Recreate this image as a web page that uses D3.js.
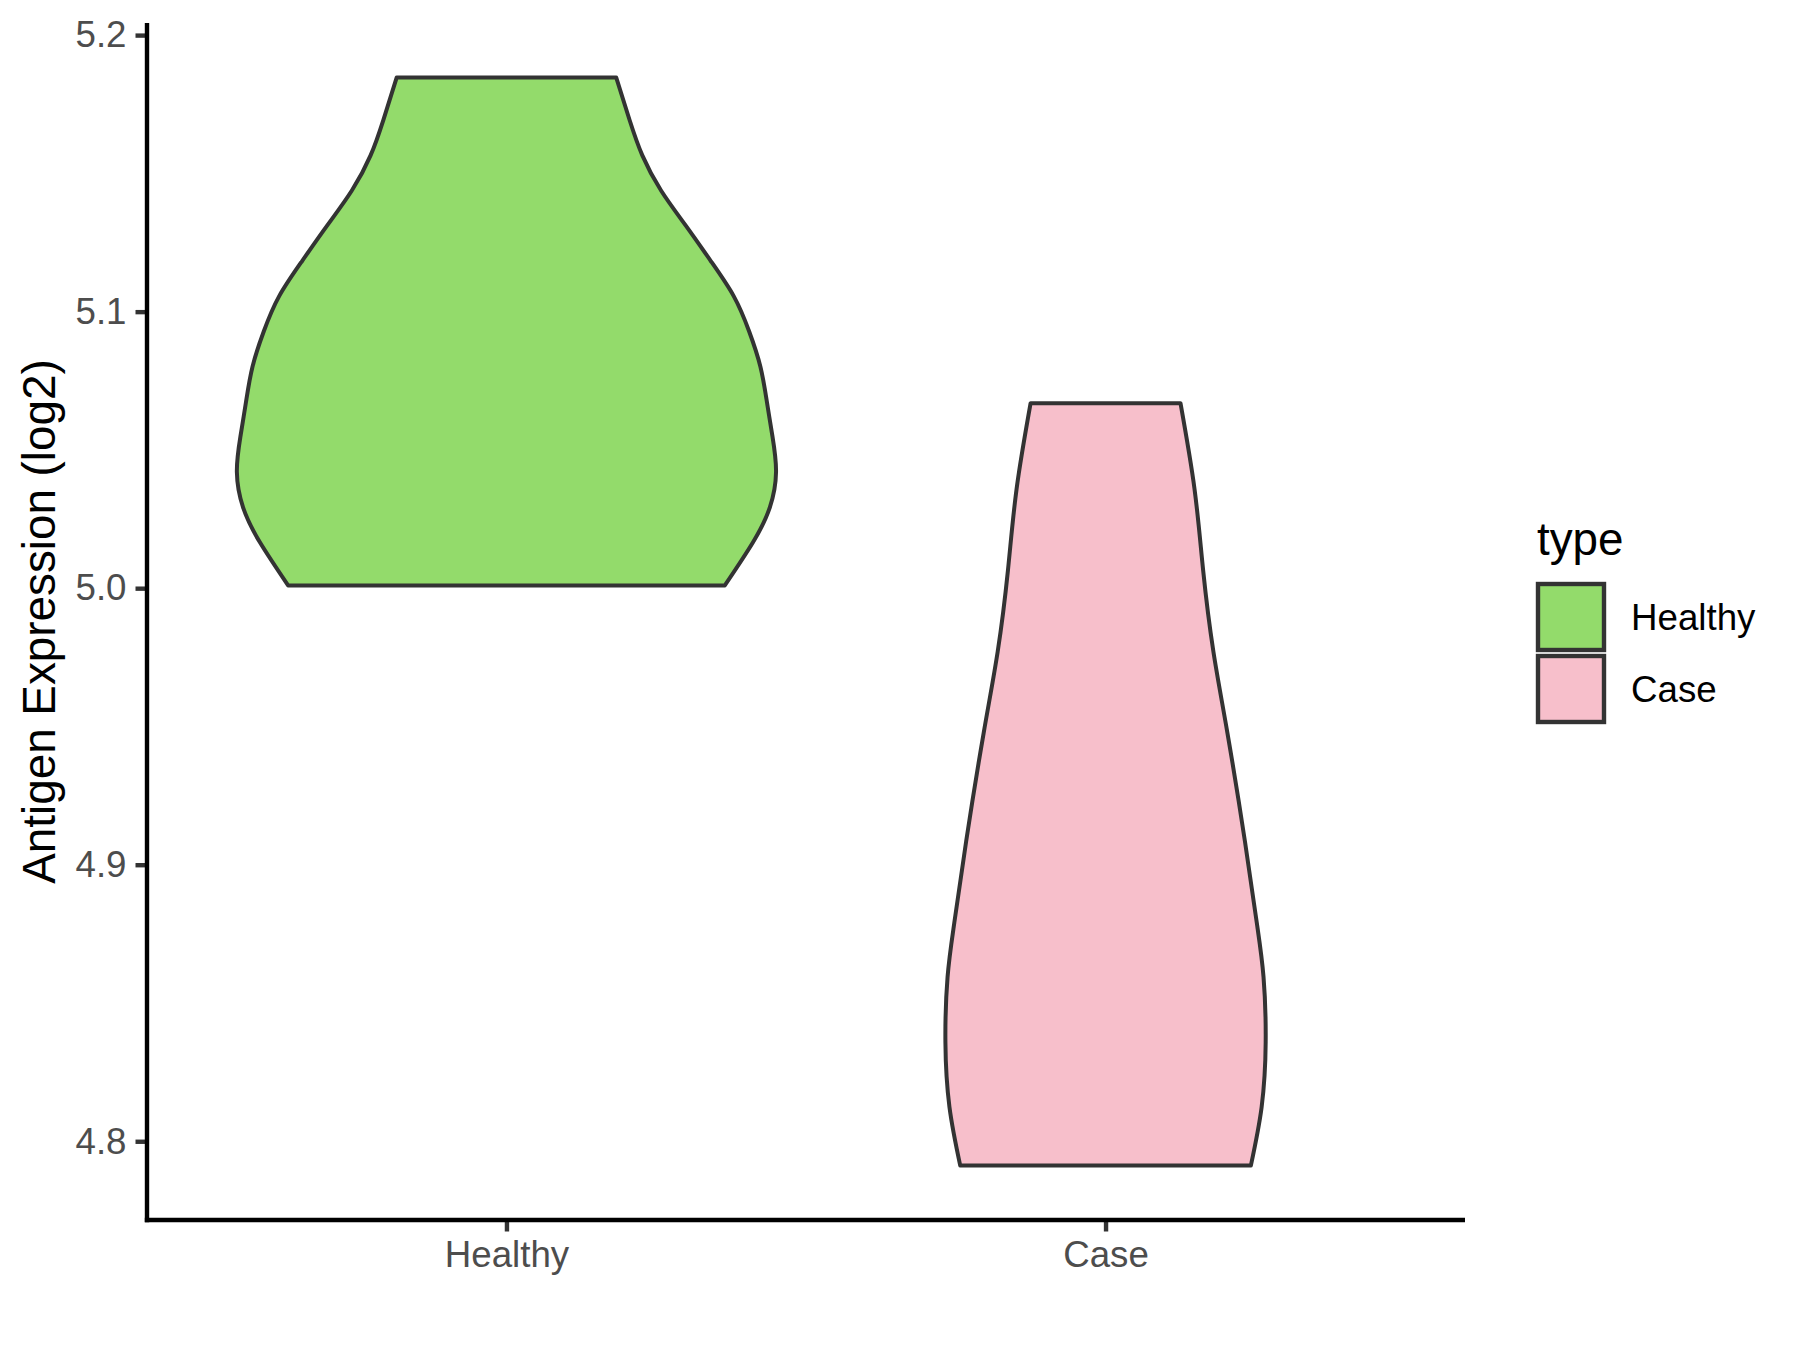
<!DOCTYPE html>
<html>
<head>
<meta charset="utf-8">
<script src="https://cdn.jsdelivr.net/npm/d3@7"></script>
<style>
  html, body { margin: 0; padding: 0; background: #ffffff; }
  text { font-family: "Liberation Sans", Arial, sans-serif; }
</style>
</head>
<body>
<svg id="chart" width="1800" height="1350"></svg>
<script>
// ---- data ----
const categories = ["Healthy", "Case"];
const fillColors = ["#93DB6B", "#F7BFCB"];
// violin outlines: expression value (log2) and relative density (half-width)
const healthyValues  = [5.1847, 5.1692, 5.1565, 5.1437, 5.1310, 5.1183, 5.1056, 5.0929, 5.0801, 5.0674, 5.0547, 5.0420, 5.0292, 5.0165, 5.0010];
const healthyDensity = [0.407, 0.457, 0.504, 0.574, 0.666, 0.758, 0.843, 0.900, 0.942, 0.966, 0.987, 1.000, 0.977, 0.914, 0.810];
const caseValues  = [5.0669, 5.0359, 5.0065, 4.9771, 4.9477, 4.9085, 4.8790, 4.8594, 4.8359, 4.8124, 4.7912];
const caseDensity = [0.278, 0.330, 0.362, 0.400, 0.452, 0.517, 0.561, 0.586, 0.594, 0.579, 0.539];
const yTicks = [4.8, 4.9, 5.0, 5.1, 5.2];
const yTickLabels = ["4.8", "4.9", "5.0", "5.1", "5.2"];
const yTitle = "Antigen Expression (log2)";
const legendTitle = "type";

// ---- layout ----
const panel = { left: 147, right: 1465, top: 23, bottom: 1220 };
const svg = d3.select("#chart");

const violins = [
  { cat: categories[0], fill: fillColors[0], pts: healthyValues.map((v, i) => ({ v, d: healthyDensity[i] })) },
  { cat: categories[1], fill: fillColors[1], pts: caseValues.map((v, i) => ({ v, d: caseDensity[i] })) }
];

const allVals = healthyValues.concat(caseValues);
const vmin = d3.min(allVals), vmax = d3.max(allVals);
const pad = (vmax - vmin) * 0.05;
const y = d3.scaleLinear().domain([vmin - pad, vmax + pad]).range([panel.bottom, panel.top]);
const x = d3.scalePoint().domain(categories).range([panel.left, panel.right]).padding(0.6);

const maxD = d3.max(violins, v => d3.max(v.pts, p => p.d));
const w = d3.scaleLinear().domain([0, maxD]).range([0, 0.45 * x.step()]);

// violins
violins.forEach(vl => {
  const cx = x(vl.cat);
  const area = d3.area()
    .y(p => y(p.v))
    .x0(p => cx - w(p.d))
    .x1(p => cx + w(p.d))
    .curve(d3.curveNatural);
  svg.append("path")
    .datum(vl.pts)
    .attr("d", area)
    .attr("fill", vl.fill)
    .attr("stroke", "#333333")
    .attr("stroke-width", 4)
    .attr("stroke-linejoin", "round");
});

// axes
const yAxis = d3.axisLeft(y).tickValues(yTicks).tickFormat((d, i) => yTickLabels[i]).tickSize(11.5).tickPadding(9);
const gy = svg.append("g").attr("transform", `translate(${panel.left},0)`).call(yAxis);
gy.select(".domain").remove();
gy.selectAll(".tick line").attr("stroke", "#333333").attr("stroke-width", 4.4);
gy.selectAll(".tick text").attr("fill", "#4D4D4D").style("font-size", "36.7px")
  .style("font-family", "Liberation Sans, Arial, sans-serif");

const xAxis = d3.axisBottom(x).tickSize(11.5).tickPadding(9);
const gx = svg.append("g").attr("transform", `translate(0,${panel.bottom})`).call(xAxis);
gx.select(".domain").remove();
gx.selectAll(".tick line").attr("stroke", "#333333").attr("stroke-width", 4.4);
gx.selectAll(".tick text").attr("fill", "#4D4D4D").style("font-size", "36.7px")
  .style("font-family", "Liberation Sans, Arial, sans-serif");

// axis lines
svg.append("line").attr("x1", panel.left).attr("x2", panel.left).attr("y1", panel.top).attr("y2", panel.bottom + 2.2)
  .attr("stroke", "#000").attr("stroke-width", 4.4);
svg.append("line").attr("x1", panel.left - 2.2).attr("x2", panel.right).attr("y1", panel.bottom).attr("y2", panel.bottom)
  .attr("stroke", "#000").attr("stroke-width", 4.4);

// y title
svg.append("text")
  .attr("transform", `translate(55,${(panel.top + panel.bottom) / 2}) rotate(-90)`)
  .attr("text-anchor", "middle")
  .style("font-size", "45.8px")
  .attr("fill", "#000")
  .text(yTitle);

// legend
const lg = svg.append("g");
lg.append("text").attr("x", 1537).attr("y", 555).style("font-size", "45.8px").attr("fill", "#000").text(legendTitle);
categories.forEach((c, i) => {
  const cy = 617 + i * 72;
  lg.append("rect").attr("x", 1538).attr("y", cy - 33).attr("width", 66).attr("height", 66)
    .attr("fill", fillColors[i]).attr("stroke", "#333333").attr("stroke-width", 4.4);
  lg.append("text").attr("x", 1631).attr("y", cy).attr("dy", "0.35em")
    .style("font-size", "36.7px").attr("fill", "#000").text(c);
});
</script>
</body>
</html>
